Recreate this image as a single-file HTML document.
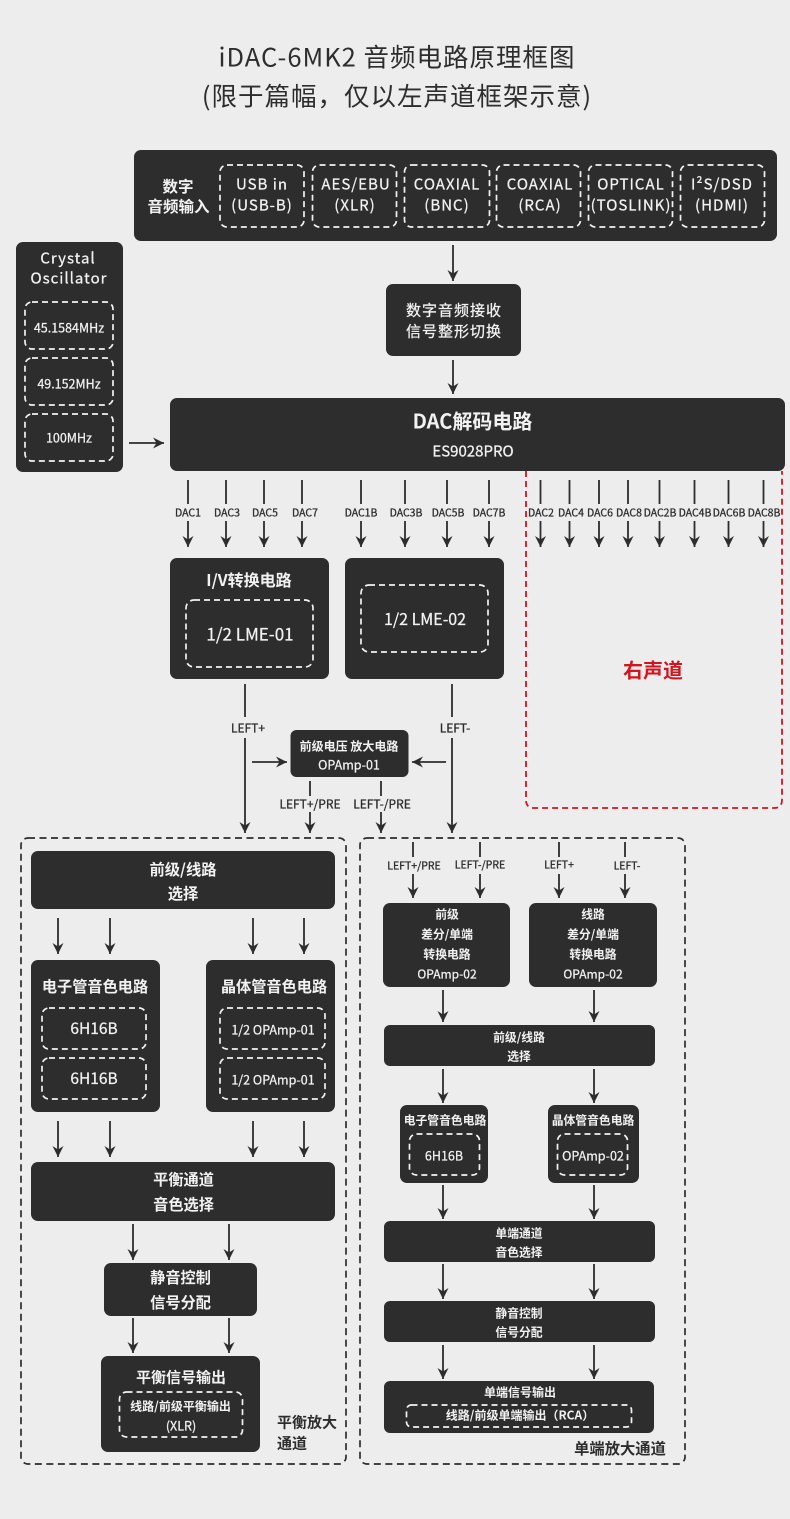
<!DOCTYPE html>
<html lang="zh">
<head>
<meta charset="utf-8">
<title>iDAC-6MK2 音频电路原理框图</title>
<style>
html,body{margin:0;padding:0;background:#eeeded;}
svg{display:block;}
text{font-family:"Noto Sans CJK SC","Liberation Sans",sans-serif;text-anchor:middle;dominant-baseline:central;}
.b{fill:#2d2d2d;}
.d{fill:none;stroke:#f2f2f2;stroke-width:1.7;stroke-dasharray:6 4;}
.w{fill:#f2f2f2;stroke:#f2f2f2;stroke-width:.25;}
.k{fill:#2d2d2d;stroke:#2d2d2d;stroke-width:.3;}
.t{fill:#2d2d2d;letter-spacing:1px;}
.bd{font-weight:700;stroke:none;}
.l{stroke:#2d2d2d;stroke-width:1.8;fill:none;}
.a{stroke:#2d2d2d;stroke-width:1.8;fill:none;marker-end:url(#ah);}
.p{fill:none;stroke:#2d2d2d;stroke-width:1.7;stroke-dasharray:7 4.5;}
.s{letter-spacing:1px;}
</style>
</head>
<body>
<svg width="790" height="1519" viewBox="0 0 790 1519" xmlns="http://www.w3.org/2000/svg">
<defs>
<marker id="ah" markerUnits="userSpaceOnUse" markerWidth="14" markerHeight="14" viewBox="-11 -7 12 14" refX="0" refY="0" orient="auto">
<path d="M0,0 L-11,-5.5 L-7.5,0 L-11,5.5 Z" fill="#2d2d2d"/>
</marker>
</defs>
<rect width="790" height="1519" fill="#eeeded"/>

<!-- Title -->
<text class="t" x="397" y="56" font-size="25.500">iDAC-6MK2 音频电路原理框图</text>
<text class="t" x="397" y="95" font-size="25.500">(限于篇幅，仅以左声道框架示意)</text>

<!-- Digital input -->
<rect class="b" x="134" y="150" width="643" height="91" rx="7"/>
<text class="w bd" x="178" y="186" font-size="15.500">数字</text>
<text class="w bd" x="178.500" y="206" font-size="15.500">音频输入</text>
<rect class="d" x="220" y="165" width="84" height="62" rx="7"/>
<rect class="d" x="312.500" y="165" width="84" height="62" rx="7"/>
<rect class="d" x="404.500" y="165" width="85" height="62" rx="7"/>
<rect class="d" x="496.500" y="165" width="84" height="62" rx="7"/>
<rect class="d" x="588.500" y="165" width="84" height="62" rx="7"/>
<rect class="d" x="680.500" y="165" width="84" height="62" rx="7"/>
<text class="w s" x="262" y="184" font-size="15">USB in</text>
<text class="w s" x="262" y="205" font-size="15">(USB-B)</text>
<text class="w s" x="356" y="184" font-size="15">AES/EBU</text>
<text class="w s" x="355" y="205" font-size="15">(XLR)</text>
<text class="w s" x="447" y="184" font-size="15">COAXIAL</text>
<text class="w s" x="447" y="205" font-size="15">(BNC)</text>
<text class="w s" x="540" y="184" font-size="15">COAXIAL</text>
<text class="w s" x="540" y="205" font-size="15">(RCA)</text>
<text class="w s" x="631" y="184" font-size="15">OPTICAL</text>
<text class="w s" x="631" y="205" font-size="15">(TOSLINK)</text>
<text class="w s" x="722" y="184" font-size="15">I²S/DSD</text>
<text class="w s" x="722" y="205" font-size="15">(HDMI)</text>

<!-- Crystal -->
<rect class="b" x="16" y="242" width="107" height="230" rx="7"/>
<text class="w s" x="68" y="258" font-size="15">Crystal</text>
<text class="w s" x="69" y="278" font-size="15">Oscillator</text>
<rect class="d" x="25" y="302" width="88" height="47" rx="7"/>
<rect class="d" x="25" y="358" width="88" height="47" rx="7"/>
<rect class="d" x="25" y="414" width="88" height="47" rx="7"/>
<text class="w" x="69" y="327" font-size="12.500">45.1584MHz</text>
<text class="w" x="69" y="383" font-size="12.500">49.152MHz</text>
<text class="w" x="69" y="437" font-size="12.500">100MHz</text>
<line class="a" x1="129" y1="443" x2="164" y2="443"/>

<!-- Receiver -->
<line class="a" x1="453" y1="245" x2="453" y2="281"/>
<rect class="b" x="386" y="284" width="135" height="72" rx="7"/>
<text class="w s" x="454" y="310" font-size="15">数字音频接收</text>
<text class="w s" x="454" y="331" font-size="15">信号整形切换</text>
<line class="a" x1="453" y1="360" x2="453" y2="394"/>

<!-- DAC -->
<rect class="b" x="170" y="398" width="615" height="73" rx="7"/>
<text class="w bd" x="472.500" y="420" font-size="20">DAC解码电路</text>
<text class="w" x="473" y="451" font-size="15">ES9028PRO</text>

<!-- DAC lines -->
<g>
<line class="l" x1="188" y1="480" x2="188" y2="504"/><line class="a" x1="188" y1="521" x2="188" y2="547"/>
<line class="l" x1="226" y1="480" x2="226" y2="504"/><line class="a" x1="226" y1="521" x2="226" y2="547"/>
<line class="l" x1="264" y1="480" x2="264" y2="504"/><line class="a" x1="264" y1="521" x2="264" y2="547"/>
<line class="l" x1="302" y1="480" x2="302" y2="504"/><line class="a" x1="302" y1="521" x2="302" y2="547"/>
<line class="l" x1="361" y1="480" x2="361" y2="504"/><line class="a" x1="361" y1="521" x2="361" y2="547"/>
<line class="l" x1="405" y1="480" x2="405" y2="504"/><line class="a" x1="405" y1="521" x2="405" y2="547"/>
<line class="l" x1="447" y1="480" x2="447" y2="504"/><line class="a" x1="447" y1="521" x2="447" y2="547"/>
<line class="l" x1="489" y1="480" x2="489" y2="504"/><line class="a" x1="489" y1="521" x2="489" y2="547"/>
<line class="l" x1="540.500" y1="480" x2="540.500" y2="504"/><line class="a" x1="540.500" y1="521" x2="540.500" y2="547"/>
<line class="l" x1="569.500" y1="480" x2="569.500" y2="504"/><line class="a" x1="569.500" y1="521" x2="569.500" y2="547"/>
<line class="l" x1="599" y1="480" x2="599" y2="504"/><line class="a" x1="599" y1="521" x2="599" y2="547"/>
<line class="l" x1="628" y1="480" x2="628" y2="504"/><line class="a" x1="628" y1="521" x2="628" y2="547"/>
<line class="l" x1="659.500" y1="480" x2="659.500" y2="504"/><line class="a" x1="659.500" y1="521" x2="659.500" y2="547"/>
<line class="l" x1="694.500" y1="480" x2="694.500" y2="504"/><line class="a" x1="694.500" y1="521" x2="694.500" y2="547"/>
<line class="l" x1="728.500" y1="480" x2="728.500" y2="504"/><line class="a" x1="728.500" y1="521" x2="728.500" y2="547"/>
<line class="l" x1="763.500" y1="480" x2="763.500" y2="504"/><line class="a" x1="763.500" y1="521" x2="763.500" y2="547"/>
</g>
<text class="k" x="188" y="513" font-size="10.500">DAC1</text>
<text class="k" x="227" y="513" font-size="10.500">DAC3</text>
<text class="k" x="265" y="513" font-size="10.500">DAC5</text>
<text class="k" x="305" y="513" font-size="10.500">DAC7</text>
<text class="k" x="361" y="513" font-size="10.500">DAC1B</text>
<text class="k" x="406" y="513" font-size="10.500">DAC3B</text>
<text class="k" x="448" y="513" font-size="10.500">DAC5B</text>
<text class="k" x="489" y="513" font-size="10.500">DAC7B</text>
<text class="k" x="541" y="513" font-size="10.500">DAC2</text>
<text class="k" x="571" y="513" font-size="10.500">DAC4</text>
<text class="k" x="600" y="513" font-size="10.500">DAC6</text>
<text class="k" x="629" y="513" font-size="10.500">DAC8</text>
<text class="k" x="660" y="513" font-size="10.500">DAC2B</text>
<text class="k" x="695" y="513" font-size="10.500">DAC4B</text>
<text class="k" x="729" y="513" font-size="10.500">DAC6B</text>
<text class="k" x="764" y="513" font-size="10.500">DAC8B</text>

<!-- Right channel -->
<path d="M526,471 V800 Q526,808 534,808 H774 Q782,808 782,800 V471" fill="none" stroke="#d2141e" stroke-width="1.800" stroke-dasharray="6 4"/>
<text x="653" y="669" font-size="20" font-weight="700" fill="#d2141e">右声道</text>

<!-- I/V -->
<rect class="b" x="170" y="558" width="159" height="121" rx="7"/>
<text class="w bd" x="249" y="579" font-size="16">I/V转换电路</text>
<rect class="d" x="186" y="600" width="127" height="67" rx="8"/>
<text class="w" x="250" y="633" font-size="17">1/2 LME-01</text>
<rect class="b" x="345" y="558" width="159" height="121" rx="7"/>
<rect class="d" x="361" y="585" width="127" height="67" rx="8"/>
<text class="w" x="425" y="618" font-size="16">1/2 LME-02</text>

<!-- LEFT lines -->
<line class="l" x1="245" y1="684" x2="245" y2="717"/>
<text class="k" x="248" y="728" font-size="12">LEFT+</text>
<line class="a" x1="245" y1="738" x2="245" y2="833"/>
<line class="l" x1="452" y1="684" x2="452" y2="717"/>
<text class="k" x="455" y="728" font-size="12">LEFT-</text>
<line class="a" x1="452" y1="738" x2="452" y2="833"/>
<rect class="b" x="290.500" y="730" width="118" height="47" rx="6"/>
<text class="w bd" x="349" y="746" font-size="12">前级电压 放大电路</text>
<text class="w" x="349" y="764" font-size="12.500">OPAmp-01</text>
<line class="a" x1="252" y1="762" x2="287" y2="762"/>
<line class="a" x1="446" y1="762" x2="412" y2="762"/>
<line class="l" x1="310" y1="781" x2="310" y2="796"/>
<text class="k" x="310" y="804" font-size="12">LEFT+/PRE</text>
<line class="a" x1="310" y1="812" x2="310" y2="833"/>
<line class="l" x1="381" y1="781" x2="381" y2="796"/>
<text class="k" x="382" y="804" font-size="12">LEFT-/PRE</text>
<line class="a" x1="381" y1="812" x2="381" y2="833"/>

<!-- Panels -->
<rect class="p" x="21" y="838" width="325" height="626" rx="7"/>
<rect class="p" x="360" y="838" width="325" height="626" rx="7"/>

<!-- Left panel -->
<rect class="b" x="31" y="851" width="304" height="58" rx="7"/>
<text class="w bd" x="183" y="869" font-size="15.300">前级/线路</text>
<text class="w bd" x="183" y="893" font-size="15.300">选择</text>
<line class="a" x1="58" y1="918" x2="58" y2="954"/>
<line class="a" x1="110" y1="918" x2="110" y2="954"/>
<line class="a" x1="253" y1="918" x2="253" y2="954"/>
<line class="a" x1="304" y1="918" x2="304" y2="954"/>

<rect class="b" x="31" y="960" width="129" height="152" rx="7"/>
<text class="w bd" x="95" y="986" font-size="15.200">电子管音色电路</text>
<rect class="d" x="42" y="1008" width="104" height="41" rx="7"/>
<rect class="d" x="42" y="1058" width="104" height="41" rx="7"/>
<text class="w" x="94" y="1028" font-size="15.500">6H16B</text>
<text class="w" x="94" y="1078" font-size="15.500">6H16B</text>

<rect class="b" x="206" y="960" width="129" height="152" rx="7"/>
<text class="w bd" x="274" y="986" font-size="15.200">晶体管音色电路</text>
<rect class="d" x="220" y="1008" width="105" height="41" rx="7"/>
<rect class="d" x="220" y="1058" width="105" height="41" rx="7"/>
<text class="w" x="273" y="1029" font-size="12.500">1/2 OPAmp-01</text>
<text class="w" x="273" y="1079" font-size="12.500">1/2 OPAmp-01</text>

<line class="a" x1="58" y1="1121" x2="58" y2="1157"/>
<line class="a" x1="110" y1="1121" x2="110" y2="1157"/>
<line class="a" x1="253" y1="1121" x2="253" y2="1157"/>
<line class="a" x1="304" y1="1121" x2="304" y2="1157"/>

<rect class="b" x="31" y="1162" width="304" height="59" rx="7"/>
<text class="w bd" x="183.500" y="1179" font-size="15.200">平衡通道</text>
<text class="w bd" x="183.500" y="1204" font-size="15.200">音色选择</text>

<line class="a" x1="133" y1="1224" x2="133" y2="1260"/>
<line class="a" x1="229" y1="1224" x2="229" y2="1260"/>

<rect class="b" x="104" y="1263" width="153" height="53" rx="7"/>
<text class="w bd" x="180.500" y="1277" font-size="15.200">静音控制</text>
<text class="w bd" x="180.500" y="1302" font-size="15.200">信号分配</text>

<line class="a" x1="133" y1="1318" x2="133" y2="1353"/>
<line class="a" x1="229" y1="1318" x2="229" y2="1353"/>

<rect class="b" x="101" y="1356" width="159" height="96" rx="7"/>
<text class="w bd" x="181" y="1377" font-size="15">平衡信号输出</text>
<rect class="d" x="119.500" y="1392" width="123" height="45" rx="7"/>
<text class="w bd" x="180.500" y="1406" font-size="12">线路/前级平衡输出</text>
<text class="w" x="181" y="1425" font-size="12.500">(XLR)</text>
<text class="k bd" x="307" y="1422" font-size="15">平衡放大</text>
<text class="k bd" x="292" y="1443" font-size="15">通道</text>

<!-- Right panel -->
<line class="l" x1="413" y1="842" x2="413" y2="857"/>
<text class="k" x="414" y="866" font-size="10.500">LEFT+/PRE</text>
<line class="a" x1="413" y1="874" x2="413" y2="898"/>
<line class="l" x1="480" y1="842" x2="480" y2="857"/>
<text class="k" x="480" y="865" font-size="10.500">LEFT-/PRE</text>
<line class="a" x1="480" y1="874" x2="480" y2="898"/>
<line class="l" x1="559" y1="842" x2="559" y2="857"/>
<text class="k" x="559" y="865" font-size="10.500">LEFT+</text>
<line class="a" x1="559" y1="874" x2="559" y2="898"/>
<line class="l" x1="625" y1="842" x2="625" y2="857"/>
<text class="k" x="627" y="866" font-size="10.500">LEFT-</text>
<line class="a" x1="625" y1="874" x2="625" y2="898"/>

<rect class="b" x="383" y="903" width="127" height="84" rx="7"/>
<text class="w bd" x="447" y="914" font-size="11.800">前级</text>
<text class="w bd" x="447" y="934" font-size="11.800">差分/单端</text>
<text class="w bd" x="447" y="954" font-size="11.800">转换电路</text>
<text class="w" x="447" y="974" font-size="12">OPAmp-02</text>

<rect class="b" x="529" y="903" width="128" height="84" rx="7"/>
<text class="w bd" x="593" y="914" font-size="11.800">线路</text>
<text class="w bd" x="593" y="934" font-size="11.800">差分/单端</text>
<text class="w bd" x="593" y="954" font-size="11.800">转换电路</text>
<text class="w" x="593" y="974" font-size="12">OPAmp-02</text>

<line class="a" x1="443" y1="990" x2="443" y2="1022"/>
<line class="a" x1="594" y1="990" x2="594" y2="1022"/>

<rect class="b" x="384" y="1025" width="271" height="41" rx="6"/>
<text class="w bd" x="519" y="1037" font-size="11.800">前级/线路</text>
<text class="w bd" x="519" y="1056" font-size="11.800">选择</text>

<line class="a" x1="443" y1="1069" x2="443" y2="1103"/>
<line class="a" x1="594" y1="1069" x2="594" y2="1103"/>

<rect class="b" x="400" y="1105" width="88" height="78" rx="7"/>
<text class="w bd" x="445" y="1120" font-size="11.800">电子管音色电路</text>
<rect class="d" x="409.500" y="1134" width="70" height="41" rx="7"/>
<text class="w" x="444" y="1155" font-size="12.500">6H16B</text>

<rect class="b" x="548" y="1105" width="91" height="78" rx="7"/>
<text class="w bd" x="593" y="1120" font-size="11.800">晶体管音色电路</text>
<rect class="d" x="557.500" y="1134" width="70" height="41" rx="7"/>
<text class="w" x="593" y="1155" font-size="12.500">OPAmp-02</text>

<line class="a" x1="443" y1="1185" x2="443" y2="1219"/>
<line class="a" x1="594" y1="1185" x2="594" y2="1219"/>

<rect class="b" x="384" y="1221" width="271" height="41" rx="6"/>
<text class="w bd" x="519" y="1233" font-size="11.800">单端通道</text>
<text class="w bd" x="519" y="1252" font-size="11.800">音色选择</text>

<line class="a" x1="443" y1="1264" x2="443" y2="1299"/>
<line class="a" x1="594" y1="1264" x2="594" y2="1299"/>

<rect class="b" x="384" y="1301" width="271" height="41" rx="6"/>
<text class="w bd" x="519" y="1313" font-size="11.800">静音控制</text>
<text class="w bd" x="519" y="1332" font-size="11.800">信号分配</text>

<line class="a" x1="443" y1="1345" x2="443" y2="1379"/>
<line class="a" x1="594" y1="1345" x2="594" y2="1379"/>

<rect class="b" x="384" y="1381" width="270" height="52" rx="6"/>
<text class="w bd" x="520" y="1392" font-size="12">单端信号输出</text>
<rect class="d" x="406.500" y="1405" width="225" height="22" rx="5"/>
<text class="w bd" x="520" y="1415" font-size="12">线路/前级单端输出（RCA）</text>
<text class="k bd" x="620" y="1448" font-size="15.300">单端放大通道</text>
</svg>
</body>
</html>
